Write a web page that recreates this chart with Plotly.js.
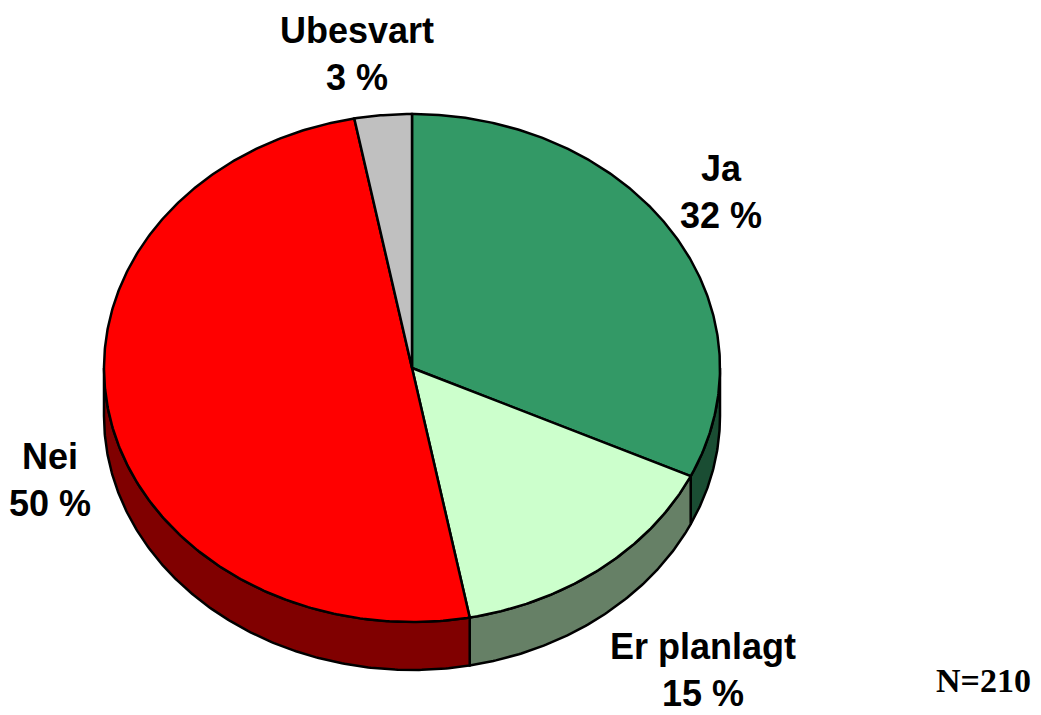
<!DOCTYPE html>
<html>
<head>
<meta charset="utf-8">
<script src="https://cdn.plot.ly/plotly-3.0.1.min.js"></script>
<style>html,body{margin:0;padding:0;background:#fff;}#chart{width:1041px;height:715px;}</style>
</head>
<body>
<div id="chart"></div>
<script>
// ---- data ----
const labels = ['Ja', 'Er planlagt', 'Nei', 'Ubesvart'];
const values = [32, 15, 50, 3];
const sampleNote = 'N=210';

// ---- styles ----
const topColors = ['#339966', '#CCFFCC', '#FF0000', '#C0C0C0'];
const sideColors = ['#1A4D33', '#668066', '#800000', '#606060'];

// pie geometry in plot units (axis ranges match pixels)
const cx = 412, cy = 368, rx = 308, ry = 254, depth = 48;

function pt(theta, dy) { // theta in degrees clockwise from 12 o'clock
  const t = theta * Math.PI / 180;
  return [cx + rx * Math.sin(t), cy - ry * Math.cos(t) + (dy || 0)];
}

const total = values.reduce((a, b) => a + b, 0);
const traces = [];
let acc = 0;
const slices = values.map((v, i) => {
  const a0 = acc / total * 360;
  acc += v;
  const a1 = acc / total * 360;
  return {i, a0, a1};
});

// side walls (visible front half: 90..270 deg)
slices.forEach(s => {
  const lo = Math.max(s.a0, 90), hi = Math.min(s.a1, 270);
  if (hi <= lo) return;
  const xs = [], ys = [];
  const n = Math.max(4, Math.ceil((hi - lo) * 2));
  for (let k = 0; k <= n; k++) { const p = pt(lo + (hi - lo) * k / n, 0); xs.push(p[0]); ys.push(p[1]); }
  for (let k = n; k >= 0; k--) { const p = pt(lo + (hi - lo) * k / n, depth); xs.push(p[0]); ys.push(p[1]); }
  xs.push(xs[0]); ys.push(ys[0]);
  traces.push({type: 'scatter', mode: 'lines', x: xs, y: ys, fill: 'toself',
    fillcolor: sideColors[s.i], line: {color: '#000', width: 2.5}, hoverinfo: 'skip', showlegend: false});
});

// top faces
slices.forEach(s => {
  const xs = [cx], ys = [cy];
  const n = Math.max(4, Math.ceil((s.a1 - s.a0) * 2));
  for (let k = 0; k <= n; k++) { const p = pt(s.a0 + (s.a1 - s.a0) * k / n, 0); xs.push(p[0]); ys.push(p[1]); }
  xs.push(cx); ys.push(cy);
  traces.push({type: 'scatter', mode: 'lines', x: xs, y: ys, fill: 'toself',
    fillcolor: topColors[s.i], line: {color: '#000', width: 2.5}, hoverinfo: 'skip',
    name: labels[s.i], showlegend: false});
});

const labelPos = [[721, 192], [703, 670], [50, 480], [357, 54]];
const annotations = labels.map((l, i) => ({
  x: labelPos[i][0], y: labelPos[i][1], xref: 'x', yref: 'y',
  text: '<b>' + l + '<br>' + Math.round(values[i] / total * 100) + ' %</b>',
  showarrow: false, align: 'center', borderpad: 0,
  font: {family: 'Liberation Sans, Arial, sans-serif', size: 36, color: '#000'}
}));
annotations.push({x: 983, y: 680, xref: 'x', yref: 'y', text: '<b>' + sampleNote + '</b>',
  showarrow: false, font: {family: 'Liberation Serif, Times New Roman, serif', size: 34, color: '#000'}});

const layout = {
  width: 1041, height: 715,
  margin: {l: 0, r: 0, t: 0, b: 0},
  paper_bgcolor: '#fff', plot_bgcolor: '#fff',
  xaxis: {range: [0, 1041], visible: false, fixedrange: true},
  yaxis: {range: [715, 0], visible: false, fixedrange: true},
  annotations: annotations,
  showlegend: false
};
Plotly.newPlot('chart', traces, layout, {displayModeBar: false, staticPlot: true});
</script>
</body>
</html>
